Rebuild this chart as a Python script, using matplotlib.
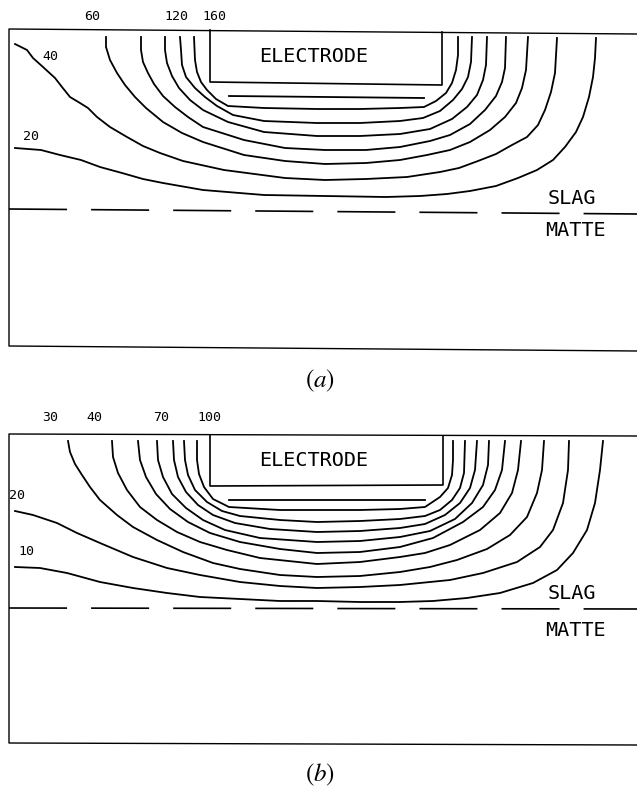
import matplotlib
matplotlib.use('Agg')
import matplotlib.pyplot as plt

plt.rcParams['lines.scale_dashes'] = False
plt.rcParams['mathtext.fontset'] = 'stix'

# ---- panel (a): contour lines (x, y in picture pixels) ----
a_levels = [20, 40, 60, 80, 100, 120, 140, 160]
a_lines = {
    20: [(15, 148), (41, 150), (60, 155), (81, 160), (100, 167), (122, 173), (143, 179), (163, 183),
         (203, 190), (264, 195), (325, 196), (386, 197), (420, 196), (447, 194), (470, 191), (496, 186),
         (518, 178), (537, 170), (553, 160), (565, 147), (576, 132), (583, 117), (589, 97), (593, 77),
         (595, 58), (596, 38)],
    40: [(15, 44), (27, 50), (33, 58), (43, 67), (55, 78), (62, 87), (70, 97), (80, 103), (88, 108),
         (97, 117), (110, 127), (127, 137), (143, 146), (160, 153), (183, 161), (224, 170), (285, 178),
         (325, 180), (366, 179), (407, 177), (440, 172), (459, 168), (478, 161), (496, 154), (512, 145),
         (527, 137), (538, 125), (545, 110), (551, 92), (555, 73), (557, 38)],
    60: [(106, 37), (106, 47), (110, 60), (117, 73), (125, 85), (135, 97), (146, 108), (163, 122),
         (182, 133), (203, 142), (244, 155), (285, 161), (325, 164), (366, 163), (400, 160), (427, 155),
         (450, 150), (470, 142), (490, 130), (505, 117), (516, 103), (522, 88), (526, 70), (528, 37)],
    80: [(141, 37), (141, 50), (143, 62), (148, 73), (154, 84), (163, 96), (175, 107), (188, 117),
         (203, 127), (244, 140), (285, 148), (325, 150), (366, 150), (400, 147), (430, 141), (450, 135),
         (470, 124), (485, 110), (496, 96), (502, 82), (505, 68), (506, 37)],
    100: [(165, 37), (165, 50), (167, 63), (172, 76), (179, 88), (190, 100), (203, 110), (228, 122),
          (264, 132), (317, 136), (360, 136), (400, 134), (430, 129), (452, 119), (467, 107), (477, 95),
          (483, 80), (486, 65), (487, 37)],
    120: [(180, 37), (181, 50), (182, 65), (186, 77), (195, 88), (205, 97), (217, 106), (233, 115),
          (264, 121), (317, 123), (360, 123), (400, 121), (423, 118), (440, 111), (453, 100), (462, 89),
          (468, 77), (471, 62), (472, 37)],
    140: [(194, 37), (195, 60), (197, 72), (201, 82), (207, 90), (216, 99), (228, 106), (264, 108),
          (317, 109), (360, 109), (400, 108), (424, 107), (436, 101), (446, 93), (452, 83), (456, 70),
          (458, 55), (458, 37)],
    160: [(229, 96), (424, 98)],
}
a_frame_x = [637, 9, 9, 637]
a_frame_y = [34, 29, 346, 351]
a_interface_x = [9, 637]
a_interface_y = [209, 214]
a_electrode_x = [210, 210, 442, 442]
a_electrode_y = [30, 82, 85, 32]
a_labels = ['60', '120', '160', '40', '20']
a_label_x = [92, 176, 214, 50, 31]
a_label_y = [16, 16, 16, 57, 137]

# ---- panel (b) ----
b_levels = [10, 20, 30, 40, 50, 60, 70, 80, 90, 100]
b_lines = {
    10: [(15, 567), (40, 568), (67, 573), (100, 582), (133, 588), (167, 593), (200, 597), (240, 599),
         (280, 601), (317, 601), (360, 602), (400, 602), (433, 601), (467, 598), (500, 593), (533, 583),
         (557, 570), (573, 553), (587, 530), (595, 503), (600, 470), (603, 441)],
    20: [(15, 511), (33, 515), (57, 523), (77, 533), (100, 543), (133, 557), (167, 568), (200, 575),
         (240, 582), (280, 586), (317, 588), (360, 587), (400, 585), (450, 580), (483, 573), (517, 562),
         (540, 547), (553, 530), (563, 503), (568, 470), (569, 441)],
    30: [(68, 441), (70, 452), (75, 464), (82, 475), (90, 487), (100, 500), (117, 515), (133, 527),
         (157, 540), (183, 552), (213, 563), (240, 569), (280, 575), (317, 577), (360, 576), (400, 572),
         (430, 567), (457, 560), (487, 549), (510, 535), (527, 517), (537, 493), (542, 470), (544, 441)],
    40: [(112, 441), (113, 457), (118, 473), (127, 490), (140, 507), (157, 520), (177, 532), (200, 542),
         (227, 550), (260, 558), (317, 564), (360, 562), (400, 557), (425, 553), (450, 545), (480, 530),
         (500, 513), (512, 493), (518, 470), (521, 441)],
    50: [(138, 441), (140, 460), (146, 477), (156, 494), (170, 509), (188, 522), (210, 533), (240, 542),
         (280, 549), (317, 553), (360, 552), (400, 547), (433, 538), (463, 522), (483, 507), (495, 490),
         (502, 470), (505, 441)],
    60: [(157, 441), (158, 460), (163, 477), (172, 494), (186, 508), (203, 520), (225, 530), (260, 538),
         (317, 542), (360, 541), (400, 537), (430, 531), (455, 519), (472, 503), (483, 485), (488, 465),
         (489, 441)],
    70: [(173, 441), (174, 460), (178, 477), (186, 492), (198, 505), (213, 515), (235, 523), (270, 529),
         (317, 532), (360, 531), (400, 528), (425, 524), (445, 515), (460, 503), (470, 488), (475, 470),
         (477, 441)],
    80: [(184, 441), (185, 460), (188, 475), (195, 490), (207, 502), (222, 511), (240, 516), (280, 520),
         (317, 522), (360, 521), (400, 519), (425, 516), (440, 510), (452, 500), (460, 488), (464, 473),
         (465, 441)],
    90: [(197, 441), (197, 460), (199, 474), (204, 487), (213, 499), (229, 507), (280, 510), (317, 510),
         (360, 510), (400, 509), (425, 507), (440, 497), (448, 488), (452, 475), (453, 460), (453, 441)],
    100: [(229, 500), (425, 500)],
}
b_frame_x = [637, 9, 9, 637]
b_frame_y = [436, 434, 743, 745]
b_interface_x = [9, 637]
b_interface_y = [608, 609]
b_electrode_x = [210, 210, 443, 443]
b_electrode_y = [435, 486, 485, 436]
b_labels = ['30', '40', '70', '100', '20', '10']
b_label_x = [50, 94, 161, 209, 17, 26]
b_label_y = [418, 418, 418, 418, 496, 552]

electrode_text_x = 314
slag_matte_x = 572
a_slag_y, a_matte_y = 199, 231
b_slag_y, b_matte_y = 594, 631

fig = plt.figure(figsize=(6.37, 7.91), dpi=100)
ax_a = fig.add_axes([0, 1 - 395 / 791, 1, 395 / 791])
ax_b = fig.add_axes([0, 0, 1, 396 / 791])
ax_a.set_xlim(0, 637)
ax_a.set_ylim(395, 0)
ax_b.set_xlim(0, 637)
ax_b.set_ylim(791, 395)

word_font = dict(family='DejaVu Sans Mono', fontsize=14.5, color='black')
num_font = dict(family='DejaVu Sans Mono', fontsize=9.5, color='black')

panels = [
    (ax_a, a_levels, a_lines, a_frame_x, a_frame_y, a_interface_x, a_interface_y, a_electrode_x,
     a_electrode_y, a_labels, a_label_x, a_label_y, a_slag_y, a_matte_y, 'a'),
    (ax_b, b_levels, b_lines, b_frame_x, b_frame_y, b_interface_x, b_interface_y, b_electrode_x,
     b_electrode_y, b_labels, b_label_x, b_label_y, b_slag_y, b_matte_y, 'b'),
]

for (ax, levels, lines, fx, fy, ix, iy, ex, ey, labels, lx, ly, sy, my, tag) in panels:
    ax.axis('off')
    # contour lines
    for lev in levels:
        xs = [p[0] for p in lines[lev]]
        ys = [p[1] for p in lines[lev]]
        ax.plot(xs, ys, color='black', lw=1.3, solid_joinstyle='round')
    # domain boundary, slag/matte interface, electrode
    ax.plot(fx, fy, color='black', lw=1.0)
    ax.plot(ix, iy, color='black', lw=1.2, linestyle=(0, (41.8, 17.3)))
    ax.plot(ex, ey, color='black', lw=1.2)
    ax.text(electrode_text_x, (ey[0] + ey[1]) / 2, 'ELECTRODE', ha='center', va='center', **word_font)
    ax.text(slag_matte_x, sy, 'SLAG', ha='center', va='center', **word_font)
    ax.text(slag_matte_x + 3, my, 'MATTE', ha='center', va='center', **word_font)
    for t, x, y in zip(labels, lx, ly):
        ax.text(x, y, t, ha='center', va='center', **num_font)
    cap_y = 381 if tag == 'a' else 775
    ax.text(320, cap_y, r'$(\mathit{' + tag + r'})$', ha='center', va='center', fontsize=18)

fig.savefig('out.png', dpi=100, facecolor='white')
